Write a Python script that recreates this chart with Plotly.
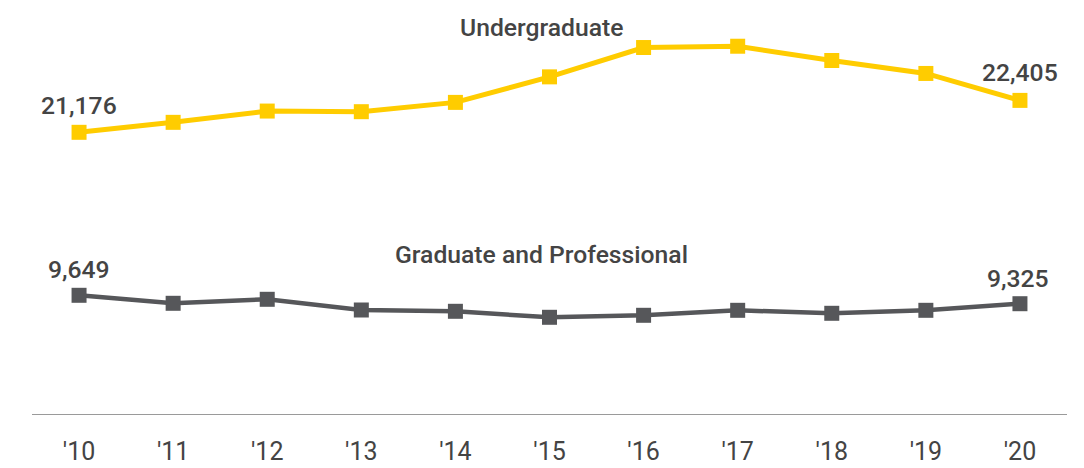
import plotly.graph_objects as go

years = ["'10", "'11", "'12", "'13", "'14", "'15", "'16", "'17", "'18", "'19", "'20"]
undergrad = [21176, 21560, 21994, 21970, 22328, 23311, 24440, 24490, 23941, 23442, 22405]
graduate = [9649, 9341, 9495, 9083, 9033, 8802, 8879, 9071, 8956, 9071, 9325]

YELLOW = "#FFCC00"
GRAY = "#56575A"
TEXT = "#444444"
FONT = "Roboto"

fig = go.Figure()
fig.add_trace(go.Scatter(
    x=list(range(len(years))), y=undergrad, mode="lines+markers",
    line=dict(color=YELLOW, width=5),
    marker=dict(symbol="square", size=15, color=YELLOW),
    name="Undergraduate", yaxis="y", hoverinfo="skip"))
fig.add_trace(go.Scatter(
    x=list(range(len(years))), y=graduate, mode="lines+markers",
    line=dict(color=GRAY, width=4.5),
    marker=dict(symbol="square", size=15, color=GRAY),
    name="Graduate and Professional", yaxis="y2", hoverinfo="skip"))

def fmt(v):
    return f"{v:,}"

ann_font = dict(family=FONT, size=24.7, color=TEXT, weight=500)
annotations = [
    dict(x=0, y=undergrad[0], xref="x", yref="y", text=fmt(undergrad[0]),
         showarrow=False, yshift=27, font=ann_font, xanchor="center", yanchor="middle"),
    dict(x=len(years) - 1, y=undergrad[-1], xref="x", yref="y", text=fmt(undergrad[-1]),
         showarrow=False, yshift=28, font=ann_font, xanchor="center", yanchor="middle"),
    dict(x=0, y=graduate[0], xref="x", yref="y2", text=fmt(graduate[0]),
         showarrow=False, yshift=26, font=ann_font, xanchor="center", yanchor="middle"),
    dict(x=len(years) - 1, y=graduate[-1], xref="x", yref="y2", text=fmt(graduate[-1]),
         showarrow=False, yshift=25, xshift=-2, font=ann_font, xanchor="center", yanchor="middle"),
    dict(x=4.92, y=0.98, xref="x", yref="paper", text="Undergraduate",
         showarrow=False, font=ann_font, xanchor="center", yanchor="middle"),
    dict(x=4.91, y=0.4036, xref="x", yref="paper", text="Graduate and Professional",
         showarrow=False, font=ann_font, xanchor="center", yanchor="middle"),
]

fig.update_layout(
    width=1084, height=468,
    margin=dict(l=24, r=25, t=12, b=62, autoexpand=False),
    paper_bgcolor="white", plot_bgcolor="white",
    showlegend=False,
    font=dict(family=FONT, color=TEXT),
    xaxis=dict(
        range=[-0.5, len(years) - 0.5],
        tickmode="array", tickvals=list(range(len(years))), ticktext=years,
        showgrid=False, zeroline=False,
        showline=True, linecolor="#9a9a9a", linewidth=1,
        ticks="", ticklabelstandoff=15, automargin=False,
        tickfont=dict(family=FONT, size=25, color=TEXT),
    ),
    yaxis=dict(range=[10331, 25500], visible=False, showgrid=False, zeroline=False),
    yaxis2=dict(range=[5079, 20248], visible=False, showgrid=False, zeroline=False,
                overlaying="y"),
    annotations=annotations,
)

fig.write_html("out.html")
